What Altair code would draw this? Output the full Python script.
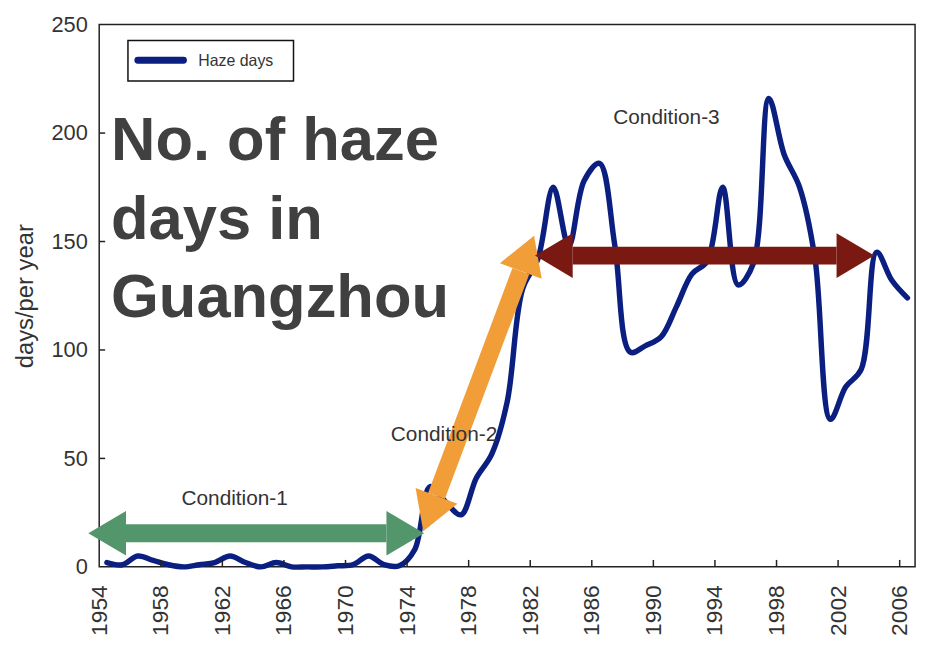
import altair as alt
import pandas as pd
import numpy as np

# ---- data ----
years = list(range(1954, 2007))
haze_days = [2, 1, 5, 3, 1, 0, 1, 2, 5, 2, 0, 2, 0, 0, 0, 0.5, 1, 5, 1, 0.5,
             8, 37, 30, 24, 41, 52, 76, 128, 142, 175, 148, 178, 186, 148, 99,
             102, 106, 120, 135, 141, 175, 130, 140, 216, 190, 175, 142, 68, 83,
             91, 145, 132, 124]

x_ticks = list(range(1954, 2007, 4))
y_ticks = [0, 50, 100, 150, 200, 250]

# arrows (shaft start / end in data units; heads drawn outward from the ends)
arrow_x1 = [1955.74, 1975.91, 1984.76]
arrow_y1 = [15.5, 32.7, 143.5]
arrow_x2 = [1972.66, 1981.39, 2001.9]
arrow_y2 = [15.5, 136.4, 143.5]
arrow_colors = ["#54966C", "#F19D38", "#7A1812"]

cond_labels = ["Condition-1", "Condition-2", "Condition-3"]
cond_x = [1962.8, 1976.4, 1990.85]
cond_y = [28.3, 58.0, 204.3]

big_text = "No. of haze\ndays in\nGuangzhou"
big_x = 1954.77
big_y = 187.4

legend_label = "Haze days"

W, H = 823, 547
XDOM = [1954, 2007]
YDOM = [0, 250]
SANS = "Liberation Sans, Arial, sans-serif"
LINE_COLOR = "#0B1F80"

xs = alt.Scale(domain=XDOM, nice=False, zero=False)
ys = alt.Scale(domain=YDOM, nice=False, zero=False)

df = pd.DataFrame({"year": years, "days": haze_days, "series": legend_label})

line = alt.Chart(df).transform_calculate(xpos="datum.year + 0.5").mark_line(
    interpolate="catmull-rom", strokeWidth=5.5, strokeCap="round", strokeJoin="round",
    color=LINE_COLOR
).encode(
    x=alt.X("xpos:Q", scale=xs,
            axis=alt.Axis(values=x_ticks, format="d", labelAngle=270, labelFont=SANS,
                          labelFontSize=23, labelColor="#333", tickSize=0, domain=False,
                          grid=False, labelPadding=18, title=None, labelFlush=False,
                          labelOverlap=False)),
    y=alt.Y("days:Q", scale=ys,
            axis=alt.Axis(values=y_ticks, labelFont=SANS, labelFontSize=22,
                          labelColor="#333", tickSize=0, domain=False, grid=False,
                          labelPadding=12, title="days/per year", titleFont=SANS,
                          titleFontSize=24, titleFontWeight="normal", titleColor="#333",
                          titlePadding=14)),
)

# inward tick marks
xt = alt.Chart(pd.DataFrame({"t": x_ticks[1:]})).mark_rule(color="#222", strokeWidth=1.5).encode(
    x=alt.X("t:Q", scale=xs), y=alt.value(H), y2=alt.value(H - 7))
yt = alt.Chart(pd.DataFrame({"t": y_ticks[1:-1]})).mark_rule(color="#222", strokeWidth=1.5).encode(
    y=alt.Y("t:Q", scale=ys), x=alt.value(0), x2=alt.value(6))

# legend box (drawn in pixel space inside the plot)
leg_box = alt.Chart(pd.DataFrame({"k": [0]})).mark_rect(
    fill="white", stroke="#111", strokeWidth=1.5).encode(
    x=alt.value(29), x2=alt.value(196), y=alt.value(16), y2=alt.value(57))
leg_line = alt.Chart(pd.DataFrame({"k": [0]})).mark_rule(
    color=LINE_COLOR, strokeWidth=7, strokeCap="round").encode(
    x=alt.value(39), x2=alt.value(85), y=alt.value(36))
leg_text = alt.Chart(pd.DataFrame({"label": [legend_label]})).mark_text(
    font=SANS, fontSize=16, color="#333", align="left", baseline="middle").encode(
    x=alt.value(100), y=alt.value(36.5), text="label:N")

head_path = "M0,-1 L1.69,0 L0,1 Z"
layers = [line, xt, yt, leg_box, leg_line, leg_text]
px_per_x = W / (XDOM[1] - XDOM[0])
px_per_y = H / (YDOM[1] - YDOM[0])
for x1, y1, x2, y2, c in zip(arrow_x1, arrow_y1, arrow_x2, arrow_y2, arrow_colors):
    d = pd.DataFrame({"x": [x1], "y": [y1], "x2": [x2], "y2": [y2]})
    shaft = alt.Chart(d).mark_rule(color=c, strokeWidth=18, strokeCap="butt").encode(
        x=alt.X("x:Q", scale=xs), y=alt.Y("y:Q", scale=ys), x2="x2:Q", y2="y2:Q")
    dx = (x2 - x1) * px_per_x
    dy = -(y2 - y1) * px_per_y
    ang_end = float(np.degrees(np.arctan2(dy, dx))) % 360
    ang_start = (ang_end + 180) % 360
    for hx, hy, ang in [(x1, y1, ang_start), (x2, y2, ang_end)]:
        hd = pd.DataFrame({"x": [hx], "y": [hy]})
        head = alt.Chart(hd).mark_point(shape=head_path, filled=True, fill=c, color=c,
                                        opacity=1, size=2025, angle=round(ang, 2),
                                        strokeWidth=0).encode(
            x=alt.X("x:Q", scale=xs), y=alt.Y("y:Q", scale=ys))
        layers.append(head)
    layers.append(shaft)

cond = alt.Chart(pd.DataFrame({"label": cond_labels, "x": cond_x, "y": cond_y})).mark_text(
    font=SANS, fontSize=21, color="#333", align="center", baseline="alphabetic").encode(
    x=alt.X("x:Q", scale=xs), y=alt.Y("y:Q", scale=ys), text="label:N")

big = alt.Chart(pd.DataFrame({"label": [big_text], "x": [big_x], "y": [big_y]})).mark_text(
    font=SANS, fontSize=62, fontWeight="bold", color="#404040", align="left",
    baseline="alphabetic", lineBreak="\n", lineHeight=79).encode(
    x=alt.X("x:Q", scale=xs), y=alt.Y("y:Q", scale=ys), text="label:N")

layers += [cond, big]

chart = alt.layer(*layers).properties(
    width=W, height=H,
    autosize=alt.AutoSizeParams(type="none"),
    padding={"left": 92, "top": 14, "right": 8, "bottom": 69},
).configure(
    background="white",
    view=alt.ViewConfig(stroke="#222", strokeWidth=1.5),
)

chart.save("out.html", embed_options={"renderer": "svg", "actions": False})
